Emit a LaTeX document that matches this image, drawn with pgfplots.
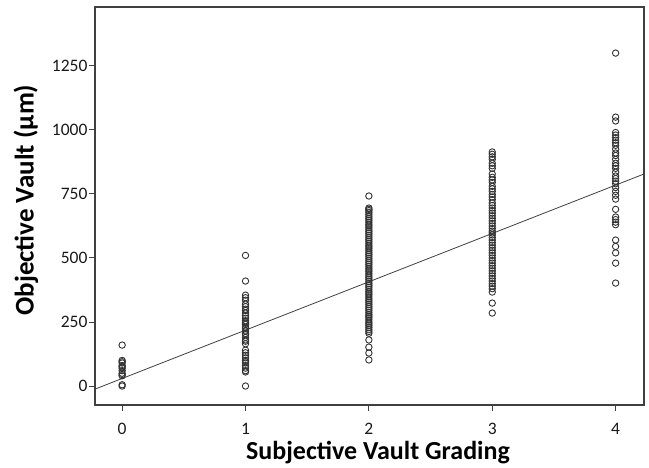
\documentclass[border=0pt]{standalone}
\usepackage{pgfplots}
\pgfplotsset{compat=1.18}
\usepackage{fontspec}
\setmainfont{Carlito}

\begin{document}
\begin{tikzpicture}
\begin{axis}[
    at={(0,0)}, anchor=south west,
    scale only axis,
    width=549pt, height=398pt,
    xmin=-0.22, xmax=4.23,
    ymin=-74, ymax=1480,
    xtick={0,1,2,3,4},
    ytick={0,250,500,750,1000,1250},
    xtick pos=bottom, ytick pos=left,
    tick align=outside,
    major tick length=6pt,
    every tick/.style={black!75, line width=1pt},
    axis line style={black!75, line width=1.3pt},
    /pgf/number format/assume math mode=true,
    /pgf/number format/1000 sep={},
    tick label style={font=\fontsize{17.5}{20}\selectfont, black!90},
    xticklabel style={yshift=-9pt},
    yticklabel style={xshift=2pt},
    xlabel={Subjective Vault Grading},
    ylabel={Objective Vault (µm)},
    every axis x label/.style={at={(axis description cs:0.5155,-0.1206)}, anchor=center,
        font=\bfseries\fontsize{26}{30}\selectfont},
    every axis y label/.style={at={(axis description cs:-0.1257,0.515)}, rotate=90, anchor=center,
        font=\bfseries\fontsize{27}{30}\selectfont},
    clip=false,
]
% grade 0
\addplot[only marks, mark=o, mark size=3.2pt, black!80, line width=0.9pt] coordinates {
(0,160) (0,100) (0,95) (0,90) (0,80) (0,75) (0,70) (0,60) (0,50) (0,45) (0,40) (0,5) (0,0)
};
% grade 1
\addplot[only marks, mark=o, mark size=3.2pt, black!80, line width=0.9pt] coordinates {
(1,510) (1,410) (1,355) (1,345) (1,335) (1,320) (1,310) (1,300) (1,295) (1,285)
(1,275) (1,265) (1,255) (1,250) (1,245) (1,240) (1,230) (1,225) (1,215) (1,205)
(1,200) (1,190) (1,180) (1,175) (1,165) (1,140) (1,130) (1,120) (1,110) (1,100)
(1,95) (1,90) (1,80) (1,70) (1,60) (1,55) (1,0)
};
% grade 2
\addplot[only marks, mark=o, mark size=3.2pt, black!80, line width=0.9pt] coordinates {
(2,742) (2,695) (2,690) (2,685) (2,678) (2,670) (2,662) (2,655) (2,648) (2,640)
(2,632) (2,625) (2,618) (2,610) (2,603) (2,596) (2,588) (2,580) (2,573) (2,566)
(2,558) (2,550) (2,543) (2,536) (2,528) (2,520) (2,513) (2,506) (2,498) (2,490)
(2,483) (2,476) (2,468) (2,460) (2,453) (2,446) (2,438) (2,430) (2,423) (2,416)
(2,408) (2,400) (2,393) (2,386) (2,378) (2,370) (2,363) (2,356) (2,348) (2,340)
(2,333) (2,326) (2,318) (2,310) (2,303) (2,296) (2,288) (2,280) (2,273) (2,266)
(2,258) (2,250) (2,243) (2,236) (2,228) (2,220) (2,213) (2,206) (2,180) (2,152)
(2,129) (2,102)
};
% grade 3
\addplot[only marks, mark=o, mark size=3.2pt, black!80, line width=0.9pt] coordinates {
(3,914) (3,905) (3,895) (3,885) (3,870) (3,860) (3,850) (3,828) (3,815) (3,805)
(3,795) (3,780) (3,770) (3,760) (3,748) (3,738) (3,728) (3,715) (3,705) (3,695)
(3,685) (3,675) (3,665) (3,655) (3,645) (3,635) (3,625) (3,615) (3,605) (3,598)
(3,590) (3,580) (3,570) (3,560) (3,550) (3,540) (3,530) (3,520) (3,510) (3,500)
(3,490) (3,480) (3,470) (3,460) (3,450) (3,440) (3,430) (3,420) (3,410) (3,400)
(3,390) (3,380) (3,367) (3,324) (3,285)
};
% grade 4
\addplot[only marks, mark=o, mark size=3.2pt, black!80, line width=0.9pt] coordinates {
(4,1300) (4,1050) (4,1035) (4,990) (4,980) (4,970) (4,960) (4,950) (4,940) (4,925)
(4,910) (4,900) (4,885) (4,870) (4,860) (4,850) (4,835) (4,820) (4,810) (4,800)
(4,790) (4,775) (4,760) (4,745) (4,730) (4,690) (4,660) (4,650) (4,640) (4,630)
(4,570) (4,545) (4,520) (4,480) (4,402)
};
% fitted line
\addplot[black!75, line width=0.8pt] coordinates {(-0.22,-12) (4.23,828)};
\end{axis}
\pgfresetboundingbox
\path[use as bounding box] (-95pt,-62pt) rectangle (554pt,405pt);
\end{tikzpicture}
\end{document}
